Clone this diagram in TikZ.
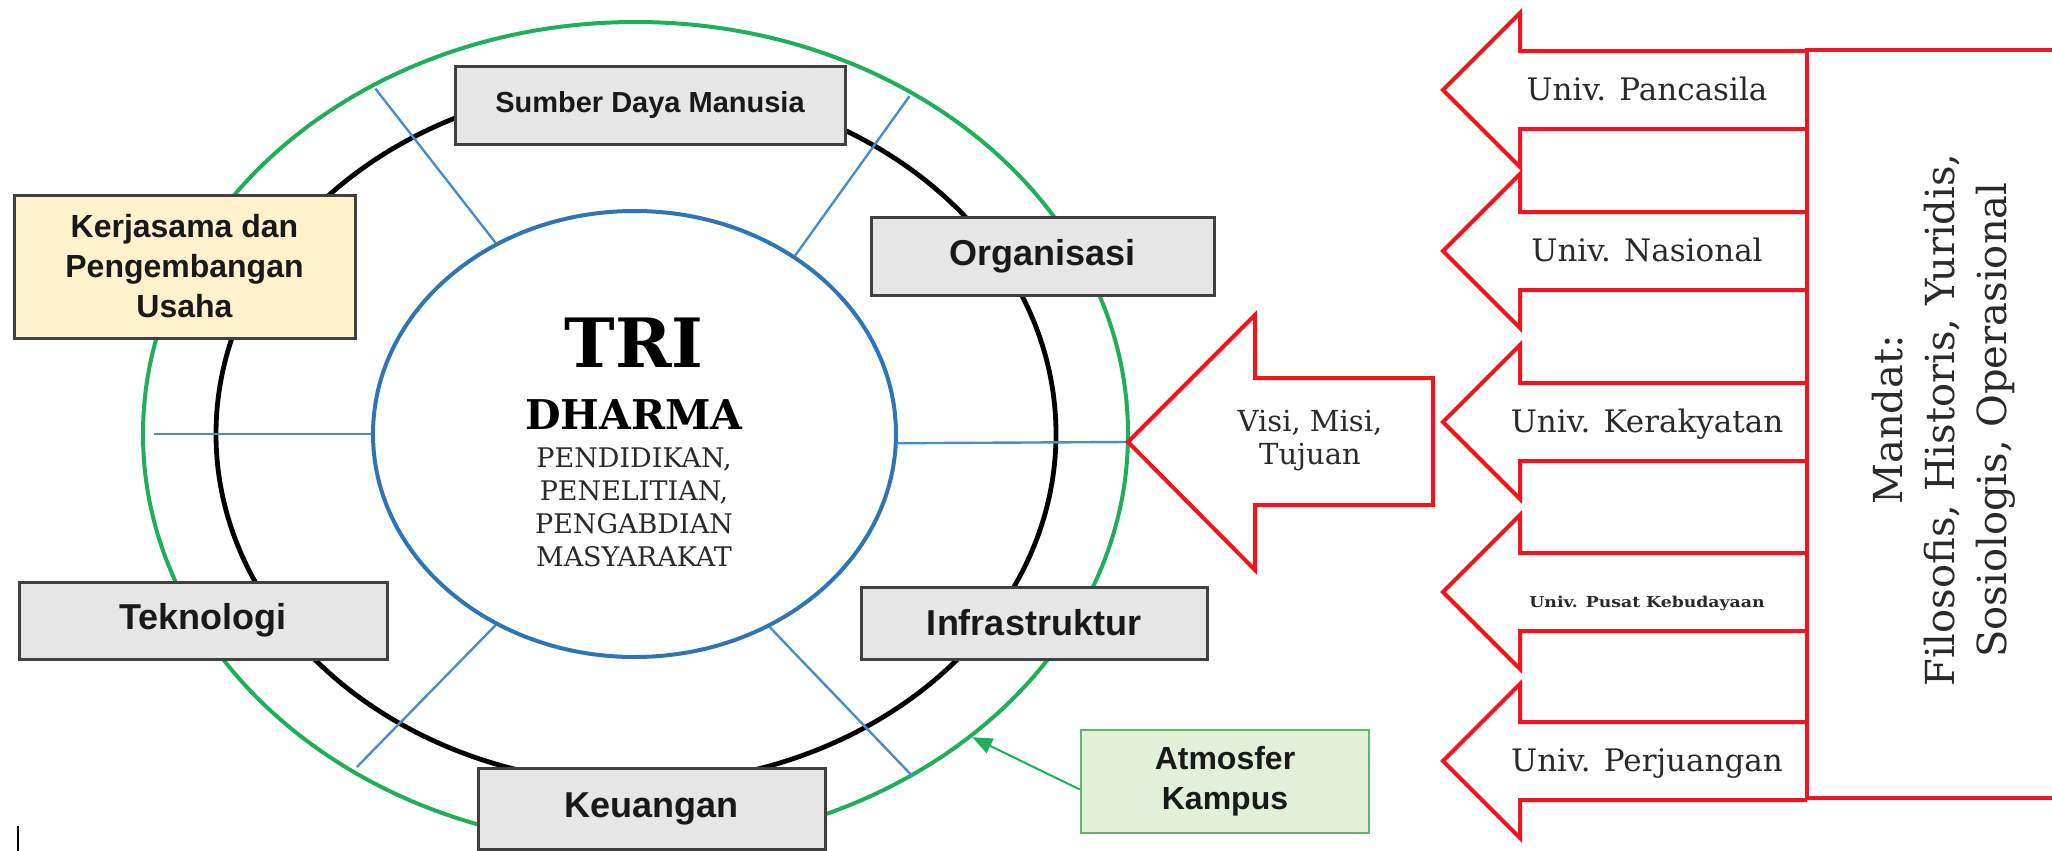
\documentclass[tikz,border=0pt]{standalone}
\usepackage{fontspec}
\setmainfont{DejaVu Serif}
\newfontfamily\boxsans{Liberation Sans}
\usetikzlibrary{arrows.meta,shapes.geometric}
\definecolor{RingGreen}{HTML}{1FAF5A}
\definecolor{CoreBlue}{HTML}{2E75B6}
\definecolor{SpokeBlue}{HTML}{4A8BC9}
\definecolor{MandatRed}{HTML}{F0141E}
\definecolor{BoxGray}{HTML}{E6E6E6}
\definecolor{BoxEdge}{HTML}{404040}
\definecolor{Cream}{HTML}{FFF2CC}
\definecolor{Mint}{HTML}{E2F0D9}
\definecolor{MintEdge}{HTML}{5DB870}
\definecolor{InkGray}{HTML}{2A2A2A}

\begin{document}
\begin{tikzpicture}[x=0.5pt,y=-0.5pt,
    ring/.style={ellipse,inner sep=0pt,line width=2pt},
    unit/.style={draw=BoxEdge,fill=BoxGray,line width=1.5pt,inner sep=0pt,align=center,
                 font=\boxsans\bfseries\fontsize{18}{21}\selectfont,text=black!90},
    spoke/.style={SpokeBlue,line width=1.2pt},
    blockarr/.style={draw=MandatRed,fill=white,line width=2pt,line join=miter},
    univ/.style={anchor=base,font=\fontsize{15.5}{18}\selectfont,text=InkGray},
    arr/.style={-{Triangle[length=10pt,width=8pt]},line width=1pt,RingGreen}]
  \useasboundingbox (0,0) rectangle (2052,851);
  % rings
  \node[ring,draw=RingGreen,minimum width=492.5pt,minimum height=412pt] (kampus) at (635.5,434) {};
  \node[ring,draw=black,line width=2.4pt,minimum width=420pt,minimum height=350pt] (tatakelola) at (636,434) {};
  \node[ring,draw=CoreBlue,minimum width=261.5pt,minimum height=223pt] (inti) at (634.5,434) {};
  \coordinate (visitip) at (1128,442);
  % spokes
  \draw[spoke] (inti.180) -- ([xshift=6.5pt]kampus.180);
  \draw[spoke] (inti.-2) -- (visitip);
  \draw[spoke,shorten >=3pt] (inti.126) -- (kampus.127.5);
  \draw[spoke,shorten >=3pt] (inti.48) -- (kampus.51);
  \draw[spoke,shorten >=4pt] (inti.234) -- (kampus.230);
  \draw[spoke] (inti.-55) -- (kampus.-51.5);
  % units round the core
  \node[unit,minimum width=195pt,minimum height=39pt,font=\boxsans\bfseries\fontsize{14.5}{17}\selectfont] (sdm) at (650,105) {Sumber Daya Manusia};
  \node[unit,fill=Cream,minimum width=170.5pt,minimum height=71.5pt,font=\boxsans\bfseries\fontsize{16}{20}\selectfont] (kerjasama) at (184.5,266.5) {Kerjasama dan\\Pengembangan\\Usaha};
  \node[unit,minimum width=171.5pt,minimum height=39pt] (organisasi) at (1042.5,256) {Organisasi};
  \node[unit,minimum width=184pt,minimum height=38.5pt] (teknologi) at (203,620.5) {Teknologi};
  \node[unit,minimum width=173pt,minimum height=36pt] (infrastruktur) at (1034,623) {Infrastruktur};
  \node[unit,minimum width=173.5pt,minimum height=40.5pt] (keuangan) at (651.5,808.5) {Keuangan};
  \node[unit,draw=MintEdge,fill=Mint,line width=1.2pt,minimum width=144pt,minimum height=51.5pt,font=\boxsans\bfseries\fontsize{16}{20}\selectfont] (atmosfer) at (1225,781.5) {Atmosfer\\Kampus};
  \draw[arr] ([yshift=-4pt]atmosfer.west) -- (kampus.-42);
  % core text
  \node[font=\bfseries\fontsize{34}{34}\selectfont] (tri) at (634,343) {TRI};
  \node[font=\bfseries\fontsize{20.5}{22}\selectfont] (dharmatxt) at (634,415) {DHARMA};
  \node[align=center,font=\fontsize{13.5}{16.5}\selectfont,text=InkGray] (pilar) at (634,507) {PENDIDIKAN,\\PENELITIAN,\\PENGABDIAN\\MASYARAKAT};
  % visi arrow
  \draw[blockarr] (visitip) -- (1255,315) -- (1255,378) -- (1433,378) -- (1433,505) -- (1255,505) -- (1255,570) -- cycle;
  \node[align=center,font=\fontsize{14.5}{16.5}\selectfont,text=InkGray] (visi) at (1310,441) {Visi, Misi,\\Tujuan};
  % mandat arrows
  \foreach \yy/\nm in {90/pancasila,251/nasional,422/kerakyatan,592/kebudayaan,761/perjuangan}{
    \draw[blockarr] (1807,\yy-39) -- (1520,\yy-39) -- (1520,\yy-77) -- (1443,\yy)
      -- (1520,\yy+77) -- (1520,\yy+39) -- (1807,\yy+39);
    \coordinate (\nm) at (1647,\yy+10);
  }
  \draw[MandatRed,line width=2pt] (2070,50) -- (1807,50) -- (1807,798) -- (2070,798);
  \node[univ] (upancasila) at (pancasila) {Univ. Pancasila};
  \node[univ] (unasional) at (nasional) {Univ. Nasional};
  \node[univ] (ukerakyatan) at (kerakyatan) {Univ. Kerakyatan};
  \node[univ,font=\bfseries\fontsize{7.5}{9}\selectfont,xscale=1.15,yshift=-2.5pt] (ukebudayaan) at (kebudayaan) {Univ. Pusat Kebudayaan};
  \node[univ] (uperjuangan) at (perjuangan) {Univ. Perjuangan};
  \node[rotate=90,align=center,font=\fontsize{20}{26}\selectfont,text=InkGray] (mandat) at (1944,420) {Mandat:\\Filosofis, Historis, Yuridis,\\Sosiologis, Operasional};
  \draw[line width=1pt] (18,826) -- (18,851);
\end{tikzpicture}
\end{document}
